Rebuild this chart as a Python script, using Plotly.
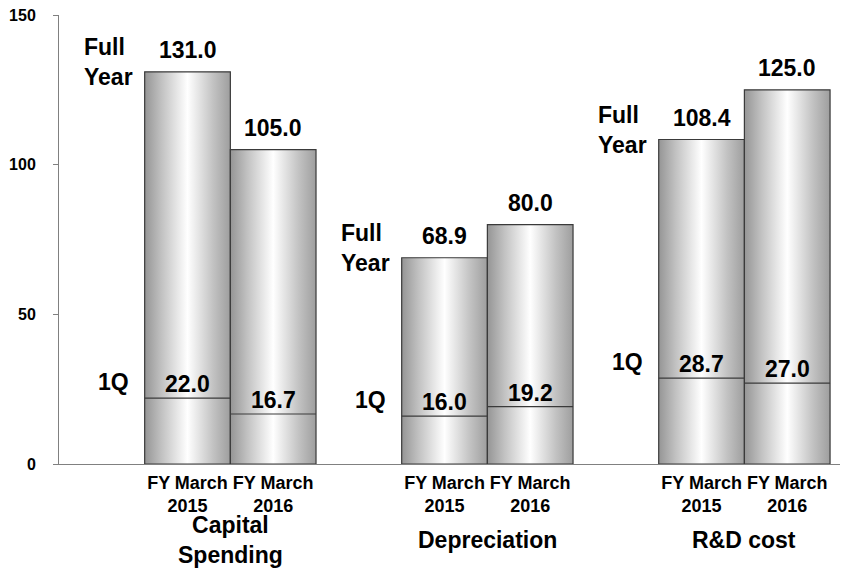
import plotly.graph_objects as go

# ---- data ----
categories = ["Capital<br>Spending", "Depreciation", "R&D cost"]
years = ["FY March<br>2015", "FY March<br>2016"]
full_2015 = [131.0, 68.9, 108.4]
full_2016 = [105.0, 80.0, 125.0]
q1_2015 = [22.0, 16.0, 28.7]
q1_2016 = [16.7, 19.2, 27.0]
y_ticks = [0, 50, 100, 150]

FONT = "Arial, Liberation Sans, sans-serif"
EDGE = "#3a3a3a"
grad = [[0, "#959595"], [0.2, "#c2c2c2"], [0.5, "#ffffff"], [0.8, "#c2c2c2"], [1, "#9e9e9e"]]

fig = go.Figure()
annotations = []
tickvals, ticktext = [], []

series = [full_2015, full_2016]
quarters = [q1_2015, q1_2016]

for g, cat in enumerate(categories):
    for k in range(2):
        left = 1 + 3 * g + k
        right = left + 1
        center = left + 0.5
        full = series[k][g]
        q = quarters[k][g]
        # gradient bar
        fig.add_trace(go.Scatter(
            x=[left, left, right, right, left], y=[0, full, full, 0, 0],
            mode="lines", fill="toself",
            fillgradient=dict(type="horizontal", colorscale=grad),
            line=dict(color=EDGE, width=1.2),
            hoverinfo="skip", showlegend=False))
        # 1Q line
        fig.add_trace(go.Scatter(
            x=[left, right], y=[q, q], mode="lines",
            line=dict(color=EDGE, width=1.2),
            hoverinfo="skip", showlegend=False))
        annotations.append(dict(x=center, y=full, xref="x", yref="y", text=f"<b>{full:.1f}</b>",
                                showarrow=False, yanchor="middle", yshift=22,
                                font=dict(size=23, color="#000", family=FONT)))
        annotations.append(dict(x=center, y=q, xref="x", yref="y", text=f"<b>{q:.1f}</b>",
                                showarrow=False, yanchor="middle", yshift=14,
                                font=dict(size=23, color="#000", family=FONT)))
        tickvals.append(center)
        ticktext.append(f"<b>{years[k]}</b>")
    first_left = 1 + 3 * g
    annotations.append(dict(x=first_left, y=full_2015[g], xref="x", yref="y",
                            text="<b>Full<br>Year</b>", align="left", showarrow=False,
                            xanchor="right", yanchor="middle", xshift=-10, yshift=10,
                            font=dict(size=23, color="#000", family=FONT)))
    annotations.append(dict(x=first_left, y=q1_2015[g], xref="x", yref="y",
                            text="<b>1Q</b>", showarrow=False,
                            xanchor="right", yanchor="middle", xshift=-14, yshift=16,
                            font=dict(size=23, color="#000", family=FONT)))
    annotations.append(dict(x=first_left + 1, y=0, xref="paper" if False else "x", yref="paper",
                            text=f"<b>{cat}</b>", showarrow=False,
                            yanchor="middle", yshift=-76,
                            font=dict(size=23, color="#000", family=FONT)))

fig.update_layout(
    width=841, height=571,
    margin=dict(l=59, r=1, t=15, b=107),
    paper_bgcolor="white", plot_bgcolor="white",
    font=dict(family=FONT, color="#000"),
    annotations=annotations,
    xaxis=dict(range=[0, 9.116], showgrid=False, zeroline=False,
               showline=True, linecolor="#808080", linewidth=1,
               tickvals=tickvals, ticktext=ticktext, ticks="",
               ticklabelstandoff=2,
               tickfont=dict(size=18, color="#000", family=FONT)),
    yaxis=dict(range=[0, 150], showgrid=False, zeroline=False,
               showline=True, linecolor="#808080", linewidth=1,
               tickvals=y_ticks, ticktext=[f"<b>{v}</b>" for v in y_ticks],
               ticks="outside", ticklen=5, tickcolor="#808080",
               ticklabelstandoff=14,
               tickfont=dict(size=16, color="#000", family=FONT)),
)

fig.write_html("out.html")
